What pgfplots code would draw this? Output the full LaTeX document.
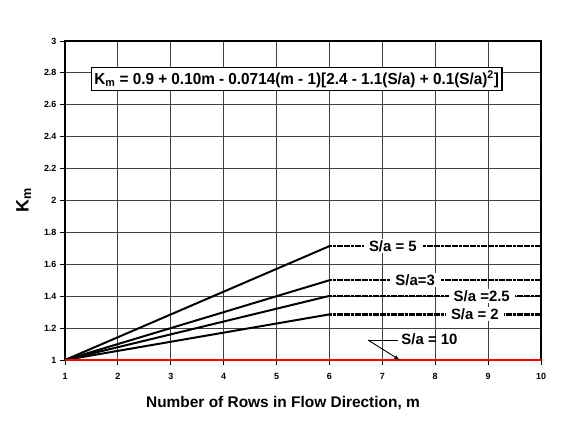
\documentclass[border=0pt]{standalone}
\usepackage{pgfplots}
\pgfplotsset{compat=1.18}
\usepackage{fontspec}
\setmainfont{Liberation Sans}
\begin{document}
\begin{tikzpicture}
\useasboundingbox (-65bp,-61bp) rectangle (503bp,360bp);
\begin{axis}[
  at={(0,0)}, anchor=south west,
  scale only axis, width=476bp, height=319bp,
  xmin=1, xmax=10, ymin=1, ymax=3,
  xtick={1,...,10},
  ytick={1,1.2,1.4,1.6,1.8,2,2.2,2.4,2.6,2.8,3},
  yticklabels={1,1.2,1.4,1.6,1.8,2,2.2,2.4,2.6,2.8,3},
  xticklabels={1,2,3,4,5,6,7,8,9,10},
  grid=major,
  grid style={black!75, line width=0.9bp},
  axis line style={black, line width=1.5bp},
  tick style={black, line width=0.9bp},
  tick align=outside, major tick length=5bp,
  xtick pos=bottom, ytick pos=left,
  tick label style={font=\fontsize{9}{10}\selectfont\bfseries},
  xticklabel style={yshift=-5bp},
  xlabel={Number of Rows in Flow Direction, m},
  ylabel={K\textsubscript{m}},
  xlabel style={font=\fontsize{15.5}{17}\selectfont\bfseries, yshift=-10bp, xshift=-20bp},
  ylabel style={font=\fontsize{18}{20}\selectfont\bfseries, yshift=6bp},
  clip=false,
]
% solid rising parts
\addplot[black, line width=2bp] coordinates {(1,1) (6,1.714)};
\addplot[black, line width=2bp] coordinates {(1,1) (6,1.5)};
\addplot[black, line width=2bp] coordinates {(1,1) (6,1.402)};
\addplot[black, line width=2bp] coordinates {(1,1) (6,1.286)};
% dashed flat parts
\addplot[black, line width=2.4bp, dash pattern=on 3bp off 0.6bp] coordinates {(6,1.714) (10,1.714)};
\addplot[black, line width=2.4bp, dash pattern=on 3bp off 0.6bp] coordinates {(6,1.5) (10,1.5)};
\addplot[black, line width=2.4bp, dash pattern=on 3bp off 0.6bp] coordinates {(6,1.402) (10,1.402)};
\addplot[black, line width=2.4bp, dash pattern=on 3bp off 0.6bp] coordinates {(6,1.286) (10,1.286)};
% S/a = 10
\addplot[red, line width=1.6bp] coordinates {(1,1) (10,1)};
% labels
\node[fill=white, inner ysep=1.5bp, inner xsep=5bp, font=\fontsize{15}{15}\selectfont\bfseries] at (axis cs:7.2,1.714) {S/a = 5};
\node[fill=white, inner ysep=1.5bp, inner xsep=5bp, font=\fontsize{15}{15}\selectfont\bfseries] at (axis cs:7.62,1.5) {S/a=3};
\node[fill=white, inner ysep=1.5bp, inner xsep=5bp, font=\fontsize{15}{15}\selectfont\bfseries] at (axis cs:8.88,1.402) {S/a =2.5};
\node[fill=white, inner ysep=1.5bp, inner xsep=5bp, font=\fontsize{15}{15}\selectfont\bfseries] at (axis cs:8.75,1.286) {S/a = 2};
\node[inner sep=1.5bp, font=\fontsize{15}{15}\selectfont\bfseries, anchor=west] at (axis cs:7.33,1.13) {S/a = 10};
\draw[black, line width=0.9bp] (axis cs:7.3,1.125) -- (axis cs:6.73,1.125);
\draw[black, line width=0.9bp, -latex] (axis cs:6.73,1.125) -- (axis cs:7.33,1.0);
% equation
\node[draw=black, line width=1.5bp, fill=white, inner sep=3bp, font=\fontsize{16}{17}\selectfont\bfseries] at (axis cs:5.38,2.762)
 {\scalebox{0.96}[1]{K\textsubscript{m} = 0.9 + 0.10m - 0.0714(m - 1)[2.4 - 1.1(S/a) + 0.1(S/a)\textsuperscript{2}]}};
\end{axis}
\end{tikzpicture}
\end{document}
